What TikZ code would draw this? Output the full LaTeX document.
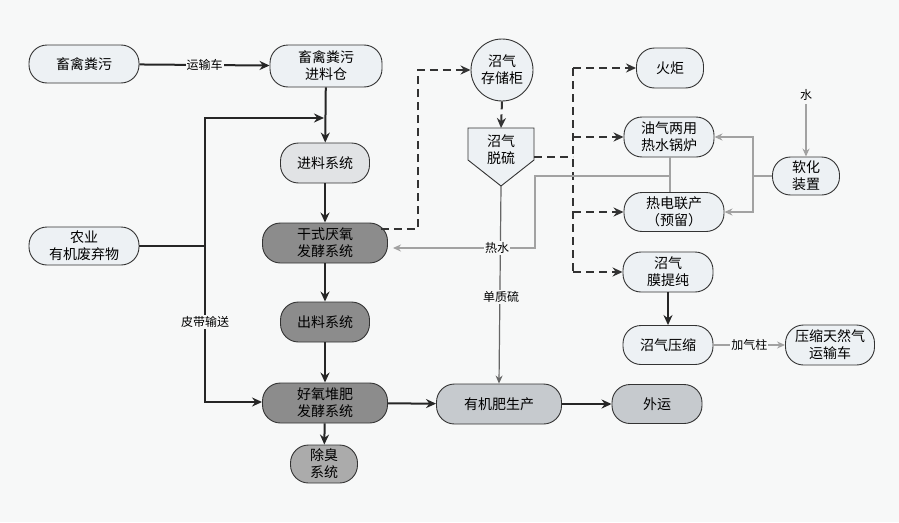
\documentclass[tikz,border=0pt]{standalone}
\usepackage{fontspec}
\setmainfont{Noto Sans CJK SC}
\usetikzlibrary{arrows.meta}
\definecolor{bg}{HTML}{F7F8F8}
\definecolor{lightfill}{HTML}{EDF1F4}
\definecolor{greyfill}{HTML}{E1E3E5}
\definecolor{darkfill}{HTML}{8C8C8C}
\definecolor{midfill}{HTML}{ABABAB}
\definecolor{paefill}{HTML}{C6CACE}
\definecolor{thin}{HTML}{A2A2A2}
\tikzset{
  box/.style={rectangle,rounded corners=18pt,draw=black!80,line width=0.9pt,
    align=center,inner sep=2pt,font=\fontsize{14}{17}\selectfont},
  light/.style={box,fill=lightfill},
  lgrey/.style={box,fill=greyfill},
  dgrey/.style={box,fill=darkfill},
  mgrey/.style={box,fill=midfill},
  pgrey/.style={box,fill=paefill},
  flow/.style={->,line width=2pt,draw=black!85,>={Stealth[length=10pt,width=9pt]}},
  gasline/.style={line width=2pt,draw=black!80,dash pattern=on 8pt off 5pt,>={Stealth[length=10pt,width=9pt]}},
  water/.style={line width=1.4pt,draw=thin,>={Stealth[length=8pt,width=7pt]}},
  sulf/.style={line width=1.2pt,draw=black!60,>={Stealth[length=8pt,width=7pt]}},
  lab/.style={fill=bg,inner sep=1pt,font=\fontsize{12}{14}\selectfont}
}
\begin{document}
\begin{tikzpicture}[x=1pt,y=-1pt]
        \fill[bg] (0,0) rectangle (899,522);
        % left column
        \node at (84,64) [light,minimum width=110pt,minimum height=38pt] (a1) {畜禽粪污};
        \node at (326,66) [light,minimum width=112pt,minimum height=42pt] (a2) {畜禽粪污\\进料仓};
        \node at (325,163) [lgrey,minimum width=89pt,minimum height=40pt] (a3) {进料系统};
        \node at (325,243) [dgrey,minimum width=125pt,minimum height=40pt] (a4) {干式厌氧\\发酵系统};
        \node at (84,246) [light,minimum width=110pt,minimum height=38pt] (a5) {农业\\有机废弃物};
        \node at (325,322) [dgrey,minimum width=89pt,minimum height=40pt] (a6) {出料系统};
        \node at (325,403) [dgrey,minimum width=125pt,minimum height=40pt] (a7) {好氧堆肥\\发酵系统};
        \node at (324,464) [mgrey,minimum width=67pt,minimum height=38pt] (a8) {除臭\\系统};
        \node at (499,404) [pgrey,minimum width=125pt,minimum height=40pt] (a9) {有机肥生产};
        \node at (657,404) [pgrey,minimum width=90pt,minimum height=39pt] (a10) {外运};
        % biogas
        \node at (502,70) [light,circle,minimum size=62pt,inner sep=0pt] (b1) {沼气\\存储柜};
        \coordinate (b2top) at (501,128);
        \coordinate (b2r) at (534,157);
        \coordinate (b2tip) at (501,186);
        \filldraw[fill=lightfill,draw=black!80,line width=0.9pt] (468,128) -- (534,128) -- (534,160) -- (b2tip) -- (468,160) -- cycle;
        \node at (501,150) [align=center,font=\fontsize{14}{17}\selectfont] (b2) {沼气\\脱硫};
        \node at (670,68) [light,minimum width=67pt,minimum height=40pt] (c1) {火炬};
        \node at (669,137) [light,minimum width=90pt,minimum height=40pt] (c2) {油气两用\\热水锅炉};
        \node at (674,212) [light,minimum width=100pt,minimum height=39pt] (c3) {热电联产\\（预留）};
        \node at (668,272) [light,minimum width=90pt,minimum height=40pt] (c4) {沼气\\膜提纯};
        \node at (668,345) [light,minimum width=90pt,minimum height=39pt] (c5) {沼气压缩};
        \node at (830,345) [light,minimum width=89pt,minimum height=40pt] (c6) {压缩天然气\\运输车};
        \node at (806,176) [light,minimum width=67pt,minimum height=38pt] (c7) {软化\\装置};
        \node at (806,95) [font=\fontsize{12}{14}\selectfont] (w) {水};
        % solid flows
        \draw[flow] (a1) -- node[lab] {运输车} (a2);
        \draw[flow] (a2) -- (a3);
        \draw[flow] (a3) -- (a4);
        \draw[flow] (a4) -- (a6);
        \draw[flow] (a6) -- (a7);
        \draw[flow] (a7) -- (a8);
        \draw[flow] (a7) -- (a9);
        \draw[flow] (a9) -- (a10);
        \draw[flow] (c4) -- (c5);
        \coordinate (j1) at (205,118);
        \coordinate (j2) at (205,402);
        \draw[flow,-] (a5.east) -- (a5.east -| j1);
        \draw[flow] (j2) -- (j1) -- ([xshift=-2pt]j1 -| a2);
        \draw[flow] (j1) -- (j2) -- (a7.west |- j2);
        \node at (205,322) [lab] {皮带输送};
        % biogas lines
        \coordinate (d1) at (418,229);
        \draw[gasline,->] ([xshift=-7pt]a4.east |- d1) -- (d1) -- (d1 |- b1.west) -- (b1.west);
        \draw[gasline,->] (b1.south) -- (b2top);
        \coordinate (d2) at (573,157);
        \draw[gasline] (b2r) -- (d2);
        \draw[gasline] (d2 |- c1) -- (d2 |- c4);
        \draw[gasline,->] (d2 |- c1) -- (c1.west);
        \draw[gasline,->] (d2 |- c2) -- (c2.west);
        \draw[gasline,->] (d2 |- c3) -- (c3.west);
        \draw[gasline,->] (d2 |- c4) -- (c4.west);
        % water lines
        \draw[water,->] (w) -- (c7);
        \coordinate (s1) at (753,176);
        \draw[water] (c7.west) -- (s1);
        \draw[water,->] (s1) |- (c2.east);
        \draw[water,->] (s1) |- (c3.east);
        \coordinate (h1) at (670,176);
        \coordinate (h2) at (535,248);
        \draw[water] (c2.south -| h1) -- (c3.north -| h1);
        \draw[water,->] (h1) -- (h1 -| h2) -- (h2) -- ([xshift=5pt]a4.east |- h2);
        \draw[water,->] (c5) -- node[lab] {加气柱} (c6);
        % sulphur
        \draw[sulf,->] (b2tip) -- (a9.north);
        \node at (501,297) [lab] {单质硫};
        \node at (497,248) [lab] {热水};
\end{tikzpicture}
\end{document}
